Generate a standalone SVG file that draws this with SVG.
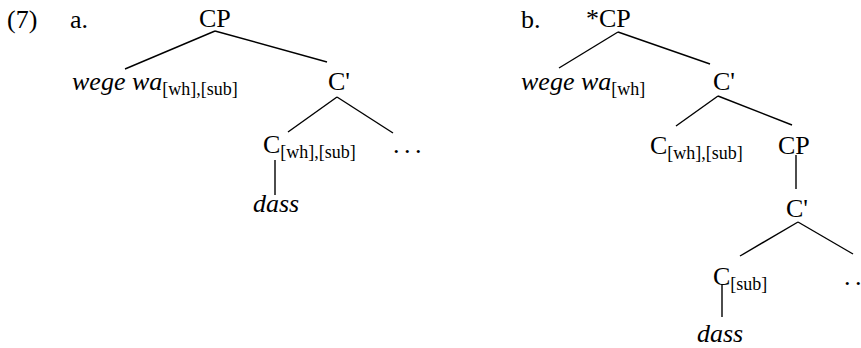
<svg xmlns="http://www.w3.org/2000/svg" width="861" height="348" viewBox="0 0 861 348">
<style>
text{font-family:"Liberation Serif","Times New Roman",serif;fill:#000;font-size:26px}
.i{font-style:italic}
.s{font-size:18px;font-style:normal}
.d{word-spacing:-2px}
line{stroke:#000;stroke-width:1.4}
</style>
<rect width="861" height="348" fill="#fff"/>
<g id="labels">
<text x="7" y="28">(7)</text>
<text x="70" y="28">a.</text>
<text x="521" y="28">b.</text>
</g>
<g id="connectors">
<line x1="215" y1="31" x2="125" y2="69"/>
<line x1="215" y1="31" x2="327" y2="62"/>
<line x1="337" y1="97" x2="288" y2="132"/>
<line x1="337" y1="97" x2="393" y2="133"/>
<line x1="275" y1="160" x2="275" y2="195"/>
<line x1="618" y1="32" x2="559" y2="68"/>
<line x1="618" y1="32" x2="710" y2="64"/>
<line x1="718" y1="96" x2="676" y2="126"/>
<line x1="718" y1="96" x2="792" y2="125"/>
<line x1="796" y1="155" x2="796" y2="189"/>
<line x1="798" y1="222" x2="740" y2="256"/>
<line x1="798" y1="222" x2="853" y2="254"/>
<line x1="722" y1="284" x2="722" y2="317"/>
</g>
<g id="a-CP"><text x="199" y="27">CP</text></g>
<g id="a-wege"><text x="72" y="90" class="i">wege wa<tspan class="s" dy="5">[wh],[sub]</tspan></text></g>
<g id="a-Cbar"><text x="328" y="90">C'</text></g>
<g id="a-C"><text x="263" y="153">C<tspan class="s" dy="5">[wh],[sub]</tspan></text></g>
<g id="a-dots"><text x="393" y="153" class="d">. . .</text></g>
<g id="a-dass"><text x="253" y="212" class="i">dass</text></g>
<g id="b-CP"><text x="586" y="27">*CP</text></g>
<g id="b-wege"><text x="521" y="90" class="i">wege wa<tspan class="s" dy="5">[wh]</tspan></text></g>
<g id="b-Cbar"><text x="713" y="90">C'</text></g>
<g id="b-C"><text x="650" y="154">C<tspan class="s" dy="5">[wh],[sub]</tspan></text></g>
<g id="b-CP2"><text x="778" y="154">CP</text></g>
<g id="b-Cbar2"><text x="786" y="217">C'</text></g>
<g id="b-C2"><text x="713" y="285">C<tspan class="s" dy="5">[sub]</tspan></text></g>
<g id="b-dots"><text x="844" y="285" class="d">. .</text></g>
<g id="b-dass"><text x="697" y="342" class="i">dass</text></g>
</svg>
